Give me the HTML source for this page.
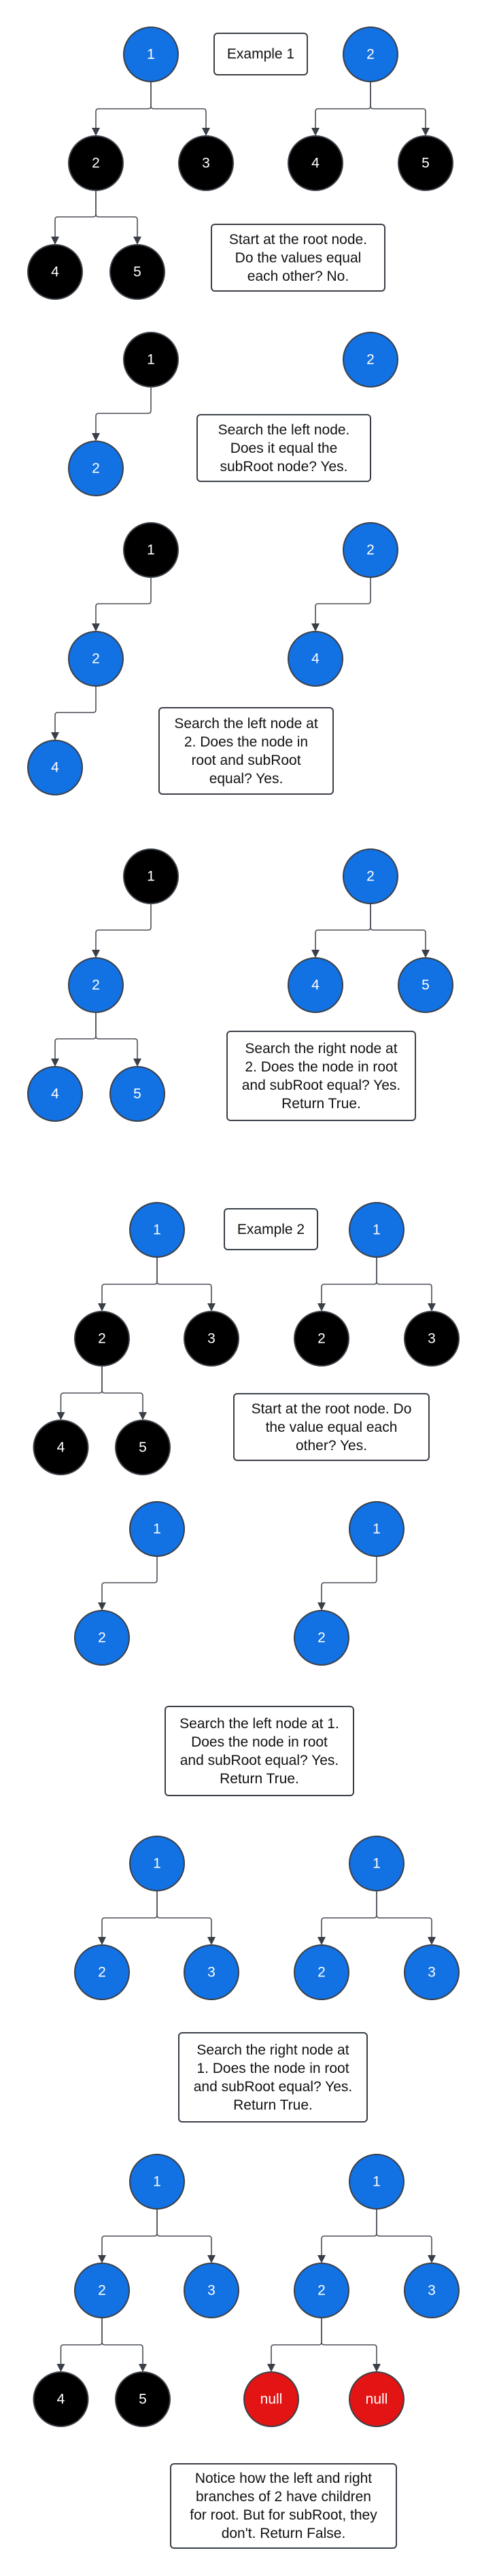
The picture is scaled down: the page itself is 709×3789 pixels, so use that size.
<!DOCTYPE html>
<html><head><meta charset="utf-8">
<style>
html,body{margin:0;padding:0;background:#fff;}
body{width:709px;height:3789px;position:relative;overflow:hidden;font-family:"Liberation Sans",sans-serif;}
svg{position:absolute;left:0;top:0;}
.b{position:absolute;box-sizing:border-box;border:2px solid #3a3f47;border-radius:6px;background:#fff;display:flex;align-items:center;justify-content:center;text-align:center;font-size:21px;line-height:27px;color:#111;padding:0 4px;white-space:nowrap;}
svg text{font-family:"Liberation Sans",sans-serif;font-size:21px;fill:#fff;text-anchor:middle;dominant-baseline:central;}
.B{fill:#1271e3;stroke:#3a3f47;stroke-width:2}
.K{fill:#000;stroke:#3a3f47;stroke-width:2}
.R{fill:#e31414;stroke:#3a3f47;stroke-width:2}
.e{fill:none;stroke:#4a4f57;stroke-width:1.6}
.a{fill:#3a3f47}
</style></head><body>
<svg width="709" height="3789" viewBox="0 0 709 3789">
<g id="edges">
<path class="e" d="M222,120 V156 Q222,160 218,160 H145 Q141,160 141,164 V189"/><polygon class="a" points="135,188 147,188 141,200"/>
<path class="e" d="M222,120 V156 Q222,160 226,160 H299 Q303,160 303,164 V189"/><polygon class="a" points="297,188 309,188 303,200"/>
<path class="e" d="M545,120 V156 Q545,160 541,160 H468 Q464,160 464,164 V189"/><polygon class="a" points="458,188 470,188 464,200"/>
<path class="e" d="M545,120 V156 Q545,160 549,160 H622 Q626,160 626,164 V189"/><polygon class="a" points="620,188 632,188 626,200"/>
<path class="e" d="M141,280 V315 Q141,319 137,319 H85 Q81,319 81,323 V349"/><polygon class="a" points="75,348 87,348 81,360"/>
<path class="e" d="M141,280 V315 Q141,319 145,319 H198 Q202,319 202,323 V349"/><polygon class="a" points="196,348 208,348 202,360"/>
<path class="e" d="M222,569 V604 Q222,608 218,608 H145 Q141,608 141,612 V638"/><polygon class="a" points="135,637 147,637 141,649"/>
<path class="e" d="M222,849 V884 Q222,888 218,888 H145 Q141,888 141,892 V918"/><polygon class="a" points="135,917 147,917 141,929"/>
<path class="e" d="M545,849 V884 Q545,888 541,888 H468 Q464,888 464,892 V918"/><polygon class="a" points="458,917 470,917 464,929"/>
<path class="e" d="M141,1009 V1044 Q141,1048 137,1048 H85 Q81,1048 81,1052 V1078"/><polygon class="a" points="75,1077 87,1077 81,1089"/>
<path class="e" d="M222,1329 V1364 Q222,1368 218,1368 H145 Q141,1368 141,1372 V1398"/><polygon class="a" points="135,1397 147,1397 141,1409"/>
<path class="e" d="M545,1329 V1364 Q545,1368 541,1368 H468 Q464,1368 464,1372 V1398"/><polygon class="a" points="458,1397 470,1397 464,1409"/>
<path class="e" d="M545,1329 V1364 Q545,1368 549,1368 H622 Q626,1368 626,1372 V1398"/><polygon class="a" points="620,1397 632,1397 626,1409"/>
<path class="e" d="M141,1489 V1524 Q141,1528 137,1528 H85 Q81,1528 81,1532 V1558"/><polygon class="a" points="75,1557 87,1557 81,1569"/>
<path class="e" d="M141,1489 V1524 Q141,1528 145,1528 H198 Q202,1528 202,1532 V1558"/><polygon class="a" points="196,1557 208,1557 202,1569"/>
<path class="e" d="M231,1849 V1885 Q231,1889 227,1889 H154 Q150,1889 150,1893 V1918"/><polygon class="a" points="144,1917 156,1917 150,1929"/>
<path class="e" d="M231,1849 V1885 Q231,1889 235,1889 H307 Q311,1889 311,1893 V1918"/><polygon class="a" points="305,1917 317,1917 311,1929"/>
<path class="e" d="M554,1849 V1885 Q554,1889 550,1889 H477 Q473,1889 473,1893 V1918"/><polygon class="a" points="467,1917 479,1917 473,1929"/>
<path class="e" d="M554,1849 V1885 Q554,1889 558,1889 H631 Q635,1889 635,1893 V1918"/><polygon class="a" points="629,1917 641,1917 635,1929"/>
<path class="e" d="M150,2009 V2045 Q150,2049 146,2049 H93.5 Q89.5,2049 89.5,2053 V2078"/><polygon class="a" points="83.5,2077 95.5,2077 89.5,2089"/>
<path class="e" d="M150,2009 V2045 Q150,2049 154,2049 H206 Q210,2049 210,2053 V2078"/><polygon class="a" points="204,2077 216,2077 210,2089"/>
<path class="e" d="M231,2289 V2324 Q231,2328 227,2328 H154 Q150,2328 150,2332 V2358"/><polygon class="a" points="144,2357 156,2357 150,2369"/>
<path class="e" d="M554,2289 V2324 Q554,2328 550,2328 H477 Q473,2328 473,2332 V2358"/><polygon class="a" points="467,2357 479,2357 473,2369"/>
<path class="e" d="M231,2781 V2817 Q231,2821 227,2821 H154 Q150,2821 150,2825 V2850"/><polygon class="a" points="144,2849 156,2849 150,2861"/>
<path class="e" d="M231,2781 V2817 Q231,2821 235,2821 H307 Q311,2821 311,2825 V2850"/><polygon class="a" points="305,2849 317,2849 311,2861"/>
<path class="e" d="M554,2781 V2817 Q554,2821 550,2821 H477 Q473,2821 473,2825 V2850"/><polygon class="a" points="467,2849 479,2849 473,2861"/>
<path class="e" d="M554,2781 V2817 Q554,2821 558,2821 H631 Q635,2821 635,2825 V2850"/><polygon class="a" points="629,2849 641,2849 635,2861"/>
<path class="e" d="M231,3249 V3285 Q231,3289 227,3289 H154 Q150,3289 150,3293 V3318"/><polygon class="a" points="144,3317 156,3317 150,3329"/>
<path class="e" d="M231,3249 V3285 Q231,3289 235,3289 H307 Q311,3289 311,3293 V3318"/><polygon class="a" points="305,3317 317,3317 311,3329"/>
<path class="e" d="M554,3249 V3285 Q554,3289 550,3289 H477 Q473,3289 473,3293 V3318"/><polygon class="a" points="467,3317 479,3317 473,3329"/>
<path class="e" d="M554,3249 V3285 Q554,3289 558,3289 H631 Q635,3289 635,3293 V3318"/><polygon class="a" points="629,3317 641,3317 635,3329"/>
<path class="e" d="M150,3409 V3445 Q150,3449 146,3449 H93.5 Q89.5,3449 89.5,3453 V3478"/><polygon class="a" points="83.5,3477 95.5,3477 89.5,3489"/>
<path class="e" d="M150,3409 V3445 Q150,3449 154,3449 H206 Q210,3449 210,3453 V3478"/><polygon class="a" points="204,3477 216,3477 210,3489"/>
<path class="e" d="M473,3409 V3445 Q473,3449 469,3449 H403 Q399,3449 399,3453 V3478"/><polygon class="a" points="393,3477 405,3477 399,3489"/>
<path class="e" d="M473,3409 V3445 Q473,3449 477,3449 H550 Q554,3449 554,3453 V3478"/><polygon class="a" points="548,3477 560,3477 554,3489"/>
</g>
<g id="nodes">
<circle class="B" cx="222" cy="80" r="40"/><text x="222" y="80">1</text>
<circle class="B" cx="545" cy="80" r="40"/><text x="545" y="80">2</text>
<circle class="K" cx="141" cy="240" r="40"/><text x="141" y="240">2</text>
<circle class="K" cx="303" cy="240" r="40"/><text x="303" y="240">3</text>
<circle class="K" cx="464" cy="240" r="40"/><text x="464" y="240">4</text>
<circle class="K" cx="626" cy="240" r="40"/><text x="626" y="240">5</text>
<circle class="K" cx="81" cy="400" r="40"/><text x="81" y="400">4</text>
<circle class="K" cx="202" cy="400" r="40"/><text x="202" y="400">5</text>
<circle class="K" cx="222" cy="529" r="40"/><text x="222" y="529">1</text>
<circle class="B" cx="545" cy="529" r="40"/><text x="545" y="529">2</text>
<circle class="B" cx="141" cy="689" r="40"/><text x="141" y="689">2</text>
<circle class="K" cx="222" cy="809" r="40"/><text x="222" y="809">1</text>
<circle class="B" cx="545" cy="809" r="40"/><text x="545" y="809">2</text>
<circle class="B" cx="141" cy="969" r="40"/><text x="141" y="969">2</text>
<circle class="B" cx="464" cy="969" r="40"/><text x="464" y="969">4</text>
<circle class="B" cx="81" cy="1129" r="40"/><text x="81" y="1129">4</text>
<circle class="K" cx="222" cy="1289" r="40"/><text x="222" y="1289">1</text>
<circle class="B" cx="545" cy="1289" r="40"/><text x="545" y="1289">2</text>
<circle class="B" cx="141" cy="1449" r="40"/><text x="141" y="1449">2</text>
<circle class="B" cx="464" cy="1449" r="40"/><text x="464" y="1449">4</text>
<circle class="B" cx="626" cy="1449" r="40"/><text x="626" y="1449">5</text>
<circle class="B" cx="81" cy="1609" r="40"/><text x="81" y="1609">4</text>
<circle class="B" cx="202" cy="1609" r="40"/><text x="202" y="1609">5</text>
<circle class="B" cx="231" cy="1809" r="40"/><text x="231" y="1809">1</text>
<circle class="B" cx="554" cy="1809" r="40"/><text x="554" y="1809">1</text>
<circle class="K" cx="150" cy="1969" r="40"/><text x="150" y="1969">2</text>
<circle class="K" cx="311" cy="1969" r="40"/><text x="311" y="1969">3</text>
<circle class="K" cx="473" cy="1969" r="40"/><text x="473" y="1969">2</text>
<circle class="K" cx="635" cy="1969" r="40"/><text x="635" y="1969">3</text>
<circle class="K" cx="89.5" cy="2129" r="40"/><text x="89.5" y="2129">4</text>
<circle class="K" cx="210" cy="2129" r="40"/><text x="210" y="2129">5</text>
<circle class="B" cx="231" cy="2249" r="40"/><text x="231" y="2249">1</text>
<circle class="B" cx="554" cy="2249" r="40"/><text x="554" y="2249">1</text>
<circle class="B" cx="150" cy="2409" r="40"/><text x="150" y="2409">2</text>
<circle class="B" cx="473" cy="2409" r="40"/><text x="473" y="2409">2</text>
<circle class="B" cx="231" cy="2741" r="40"/><text x="231" y="2741">1</text>
<circle class="B" cx="554" cy="2741" r="40"/><text x="554" y="2741">1</text>
<circle class="B" cx="150" cy="2901" r="40"/><text x="150" y="2901">2</text>
<circle class="B" cx="311" cy="2901" r="40"/><text x="311" y="2901">3</text>
<circle class="B" cx="473" cy="2901" r="40"/><text x="473" y="2901">2</text>
<circle class="B" cx="635" cy="2901" r="40"/><text x="635" y="2901">3</text>
<circle class="B" cx="231" cy="3209" r="40"/><text x="231" y="3209">1</text>
<circle class="B" cx="554" cy="3209" r="40"/><text x="554" y="3209">1</text>
<circle class="B" cx="150" cy="3369" r="40"/><text x="150" y="3369">2</text>
<circle class="B" cx="311" cy="3369" r="40"/><text x="311" y="3369">3</text>
<circle class="B" cx="473" cy="3369" r="40"/><text x="473" y="3369">2</text>
<circle class="B" cx="635" cy="3369" r="40"/><text x="635" y="3369">3</text>
<circle class="K" cx="89.5" cy="3529" r="40"/><text x="89.5" y="3529">4</text>
<circle class="K" cx="210" cy="3529" r="40"/><text x="210" y="3529">5</text>
<circle class="R" cx="399" cy="3529" r="40"/><text x="399" y="3529">null</text>
<circle class="R" cx="554" cy="3529" r="40"/><text x="554" y="3529">null</text>
</g>
</svg>
<div class="b" style="left:314px;top:48px;width:139px;height:63px;">Example 1</div>
<div class="b" style="left:310px;top:329px;width:257px;height:100px;">Start at the root node.<br>Do the values equal<br>each other? No.</div>
<div class="b" style="left:289px;top:609px;width:257px;height:100px;">Search the left node.<br>Does it equal the<br>subRoot node? Yes.</div>
<div class="b" style="left:233px;top:1040px;width:258px;height:129px;">Search the left node at<br>2. Does the node in<br>root and subRoot<br>equal? Yes.</div>
<div class="b" style="left:333px;top:1516px;width:279px;height:133px;">Search the right node at<br>2. Does the node in root<br>and subRoot equal? Yes.<br>Return True.</div>
<div class="b" style="left:329px;top:1777px;width:139px;height:62px;">Example 2</div>
<div class="b" style="left:343px;top:2049px;width:289px;height:100px;">Start at the root node. Do<br>the value equal each<br>other? Yes.</div>
<div class="b" style="left:242px;top:2509px;width:279px;height:133px;">Search the left node at 1.<br>Does the node in root<br>and subRoot equal? Yes.<br>Return True.</div>
<div class="b" style="left:262px;top:2989px;width:279px;height:133px;">Search the right node at<br>1. Does the node in root<br>and subRoot equal? Yes.<br>Return True.</div>
<div class="b" style="left:250px;top:3623px;width:334px;height:126px;">Notice how the left and right<br>branches of 2 have children<br>for root. But for subRoot, they<br>don't. Return False.</div>
</body></html>
